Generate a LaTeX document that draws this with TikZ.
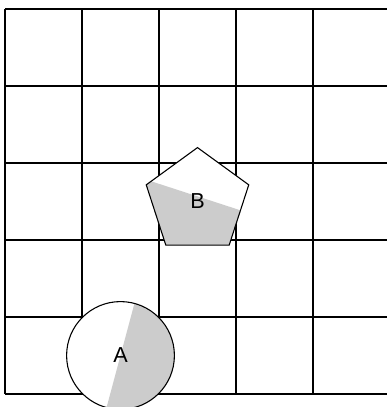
\documentclass[tikz,border=0pt]{standalone}
\usepackage{fontspec}
\setsansfont{Liberation Sans}
\usetikzlibrary{shapes.geometric}
\usetikzlibrary{calc}

\tikzstyle{GridLine}  = [draw=black, line width=0.4pt]
\tikzstyle{Piece}     = [draw=black, fill=white, inner sep=0pt, minimum size=14mm,
                         font=\sffamily\fontsize{8}{9.6}\selectfont]
\tikzset{HalfGrey/.style={path picture={
  \fill[black!20] (path picture bounding box.center) ++(#1+90:1) -- ++(#1:1)
        -- ++(#1-90:2) -- ++(#1+180:1) -- cycle;}}}

\begin{document}
\begin{tikzpicture}

\useasboundingbox (-0.065,-0.169) rectangle (4.961,5.117);

%% ------------------------------------------------------------- [ Board ]
\draw [GridLine] (0,0) grid (5,5);

%% ------------------------------------------------------------ [ Pieces ]
\node (pieceB) [Piece, regular polygon, regular polygon sides=5,
                HalfGrey=-108] at (2.5,2.5) {B};

\node (pieceA) [Piece, circle,
                HalfGrey=-15] at (1.5,0.5) {A};
\end{tikzpicture}
\end{document}
